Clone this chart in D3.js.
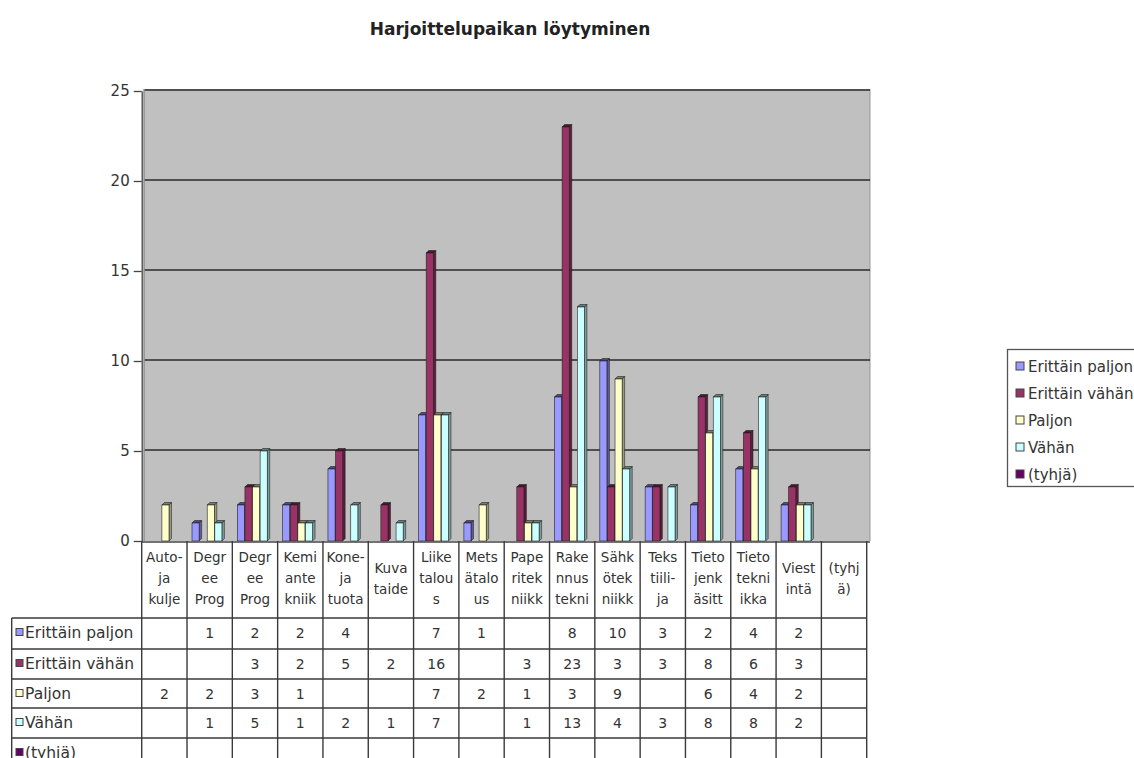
<!DOCTYPE html>
<html><head><meta charset="utf-8">
<script src="https://cdn.jsdelivr.net/npm/d3@7"></script>
<style>body{margin:0;background:#fff}svg{display:block}text{font-family:"DejaVu Sans",sans-serif;fill:#333}</style>
</head><body>
<svg id="c" width="1134" height="758"></svg>
<script>
const title = "Harjoittelupaikan löytyminen";
const categories = ["Auto-\nja\nkulje","Degr\nee\nProg","Degr\nee\nProg","Kemi\nante\nkniik","Kone-\nja\ntuota","Kuva\ntaide","Liike\ntalou\ns","Mets\nätalo\nus","Pape\nritek\nniikk","Rake\nnnus\ntekni","Sähk\nötek\nniikk","Teks\ntiili-\nja","Tieto\njenk\näsitt","Tieto\ntekni\nikka","Viest\nintä","(tyhj\nä)"];
const seriesNames = ["Erittäin paljon","Erittäin vähän","Paljon","Vähän","(tyhjä)"];
const erittainPaljon = [null,1,2,2,4,null,7,1,null,8,10,3,2,4,2,null];
const erittainVahan  = [null,null,3,2,5,2,16,null,3,23,3,3,8,6,3,null];
const paljon         = [2,2,3,1,null,null,7,2,1,3,9,null,6,4,2,null];
const vahan          = [null,1,5,1,2,1,7,null,1,13,4,3,8,8,2,null];
const tyhja          = [null,null,null,null,null,null,null,null,null,null,null,null,null,null,null,null];
const yTicks = [0,5,10,15,20,25];
const colors = ["#9999FF","#993366","#FFFFCC","#CCFFFF","#660066"];
const seriesValues = [erittainPaljon, erittainVahan, paljon, vahan, tyhja];

const svg = d3.select("#c");
const x0 = 141.7, x1 = 866.7, yTop = 91, yBot = 541;
const y = d3.scaleLinear().domain([0,25]).range([yBot,yTop]);
const x = d3.scaleBand().domain(d3.range(categories.length)).range([x0,x1]);
const xs = d3.scaleBand().domain(d3.range(seriesNames.length)).range([5,43]);

// title
svg.append("text").attr("x",510).attr("y",35).attr("text-anchor","middle")
  .style("font-size","17px").style("font-weight","bold").style("fill","#222").text(title);

// wall
svg.append("rect").attr("x",x0+1).attr("y",yTop-2).attr("width",870-x0-1).attr("height",yBot-yTop+2).attr("fill","#C0C0C0");
svg.append("line").attr("x1",x0+2.5).attr("x2",x0+2.5).attr("y1",yTop-2).attr("y2",yBot).attr("stroke","#888").attr("stroke-width",1);
svg.append("line").attr("x1",870).attr("x2",870).attr("y1",yTop-2).attr("y2",yBot).attr("stroke","#999");
// gridlines
svg.append("g").selectAll("line").data(yTicks.filter(d=>d>0)).join("line")
  .attr("x1",x0+3).attr("x2",870).attr("y1",d=>y(d)-1).attr("y2",d=>y(d)-1)
  .attr("stroke","#2a2a2a").attr("stroke-width",1.4);

// bars
const d = 2.5;
const gBars = svg.append("g");
seriesValues.forEach((vals,si)=>{
  vals.forEach((v,ci)=>{
    if(v==null) return;
    const bx = x(ci)+xs(si), fw = xs.bandwidth()-0.5, w = fw+d, yv = y(v), y0 = y(0);
    const c = d3.color(colors[si]);
    gBars.append("polygon").attr("points",[[bx+fw,yv],[bx+w,yv-d],[bx+w,y0-d],[bx+fw,y0]].join(" "))
      .attr("fill",c.darker(1.4)).attr("stroke","#111").attr("stroke-width",0.5);
    gBars.append("polygon").attr("points",[[bx,yv],[bx+d,yv-d],[bx+w,yv-d],[bx+fw,yv]].join(" "))
      .attr("fill",c.darker(2)).attr("stroke","#111").attr("stroke-width",0.5);
    gBars.append("rect").attr("x",bx).attr("y",yv).attr("width",fw).attr("height",y0-yv)
      .attr("fill",colors[si]).attr("stroke","#222").attr("stroke-width",0.6);
  });
});

// y axis
const ax = svg.append("g").attr("transform",`translate(${x0},0)`)
  .call(d3.axisLeft(y).tickValues(yTicks).tickSize(8).tickSizeOuter(0).tickPadding(4));
ax.select(".domain").attr("stroke","#444").attr("stroke-width",1.3);
ax.selectAll(".tick line").attr("stroke","#444").attr("stroke-width",1.3);
ax.selectAll(".tick text").style("font-size","15px").style("font-family","DejaVu Sans").attr("fill","#333");

// x axis line
svg.append("line").attr("x1",x0).attr("x2",870).attr("y1",yBot+1).attr("y2",yBot+1).attr("stroke","#444").attr("stroke-width",1.3);

// data table
const tb = svg.append("g");
const rowTops = [618,649,679,708,738,768];
const lc = "#3a3a3a";
x.domain().concat([categories.length]).forEach(i=>{
  const xx = i<categories.length ? x(i) : x1;
  tb.append("line").attr("x1",xx).attr("x2",xx).attr("y1",yBot).attr("y2",770).attr("stroke",lc).attr("stroke-width",1.4);
});
tb.append("line").attr("x1",11.7).attr("x2",11.7).attr("y1",rowTops[0]).attr("y2",770).attr("stroke",lc).attr("stroke-width",1.4);
rowTops.slice(0,5).forEach(t=>{
  tb.append("line").attr("x1",11.7).attr("x2",x1).attr("y1",t).attr("y2",t).attr("stroke",lc).attr("stroke-width",1.4);
});
categories.forEach((c,i)=>{
  const lines = c.split("\n");
  const cx = x(i)+x.bandwidth()/2;
  const startY = lines.length===3 ? 562 : 573;
  lines.forEach((l,li)=>{
    tb.append("text").attr("x",cx).attr("y",startY+li*21).attr("text-anchor","middle")
      .style("font-size","13.5px").text(l);
  });
});
seriesNames.forEach((s,si)=>{
  const top = rowTops[si], mid = top + 15;
  tb.append("rect").attr("x",16).attr("y",mid-4.5).attr("width",7).attr("height",7)
    .attr("fill",colors[si]).attr("stroke","#444").attr("stroke-width",1);
  tb.append("text").attr("x",25).attr("y",mid+5).style("font-size","15.5px").text(s);
  seriesValues[si].forEach((v,ci)=>{
    if(v==null) return;
    tb.append("text").attr("x",x(ci)+x.bandwidth()/2).attr("y",mid+5).attr("text-anchor","middle")
      .style("font-size","14px").text(v);
  });
});

// legend
const lg = svg.append("g");
lg.append("rect").attr("x",1007.5).attr("y",349.5).attr("width",140).attr("height",137)
  .attr("fill","#fff").attr("stroke","#555").attr("stroke-width",1.3);
seriesNames.forEach((s,si)=>{
  const cy = 366 + si*27;
  lg.append("rect").attr("x",1016).attr("y",cy-4).attr("width",8).attr("height",8)
    .attr("fill",colors[si]).attr("stroke","#444").attr("stroke-width",1);
  lg.append("text").attr("x",1028).attr("y",cy+5.5).style("font-size","15px").text(s);
});
</script>
</body></html>
